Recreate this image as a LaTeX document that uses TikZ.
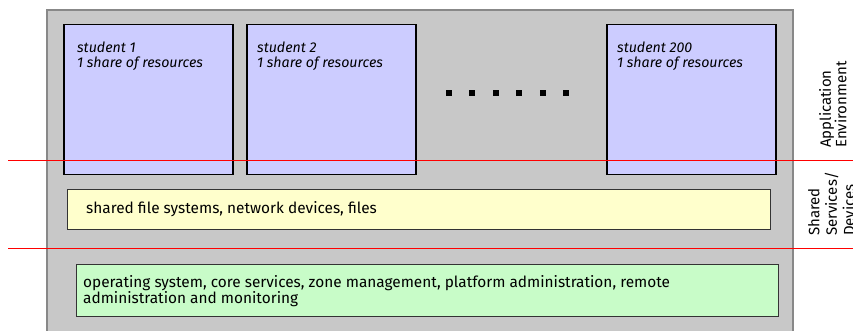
\documentclass[tikz,border=0pt]{standalone}
\usepackage{fontspec}
\setmainfont{Fira Sans}
\usetikzlibrary{positioning}

\definecolor{zonegray}{RGB}{200,200,200}
\definecolor{zoneedge}{RGB}{136,136,136}
\definecolor{studentblue}{RGB}{204,204,255}
\definecolor{sharedyellow}{RGB}{255,255,204}
\definecolor{osgreen}{RGB}{200,252,200}

\tikzset{
    studentbox/.style={draw=black, line width=1.5pt, fill=studentblue,
        minimum width=169pt, minimum height=150pt, anchor=north west,
        inner sep=0pt},
    studenttext/.style={anchor=north west, align=left, inner sep=0pt,
        font=\fontsize{14.2}{14.5}\selectfont\itshape},
    layerbox/.style={draw=black!80, line width=0.8pt, anchor=north west,
        inner sep=0pt},
    layertext/.style={anchor=west, align=left, inner sep=0pt,
        font=\fontsize{15.4}{16.5}\selectfont},
    sidelabel/.style={rotate=90, anchor=north west, align=left, inner sep=0pt,
        font=\fontsize{15}{15.5}\selectfont},
    divider/.style={red, line width=1pt}
}

\begin{document}
\begin{tikzpicture}[x=1pt, y=-1pt]
        \useasboundingbox (0,0) rectangle (853,331);

        % Zone container
        \draw[fill=zonegray, draw=zoneedge, line width=1.5pt] (47,10) rectangle (793,340);

        % Application environment: student zones
        \node[studentbox] (stud1) at (63,24) {};
        \node[studentbox] (stud2) at (246,24) {};
        \node[studentbox] (stud200) at (606,24) {};
        \node[studenttext] (stud1txt) at (77,42) {student 1\\1 share of resources};
        \node[studenttext] (stud2txt) at (257,42) {student 2\\1 share of resources};
        \node[studenttext] (stud200txt) at (617,42) {student 200\\1 share of resources};

        % Ellipsis between the zones
        \foreach \dx in {449,472,496,519,543,566}
            \fill[black] (\dx-3,90) rectangle (\dx+3,96);

        % Shared services / devices
        \node[layerbox, fill=sharedyellow, minimum width=703pt, minimum height=40pt] (shared) at (67,189) {};
        \node[layertext] (sharedtxt) at (86,209) {shared file systems, network devices, files};

        % Global zone
        \node[layerbox, fill=osgreen, minimum width=702pt, minimum height=52pt] (global) at (76,264) {};
        \node[layertext] (globaltxt) at (83,291) {operating system, core services, zone management, platform administration, remote\\administration and monitoring};

        % Layer boundaries
        \draw[divider] (8,161) -- (853,161);
        \draw[divider] (8,248) -- (853,248);

        % Layer names
        \node[sidelabel] (applabel) at (819,148) {Application\\Environment};
        \node[sidelabel, font=\fontsize{15}{17.5}\selectfont] (svclabel) at (808,236) {Shared\\Services/\\Devices};
    \end{tikzpicture}
\end{document}
